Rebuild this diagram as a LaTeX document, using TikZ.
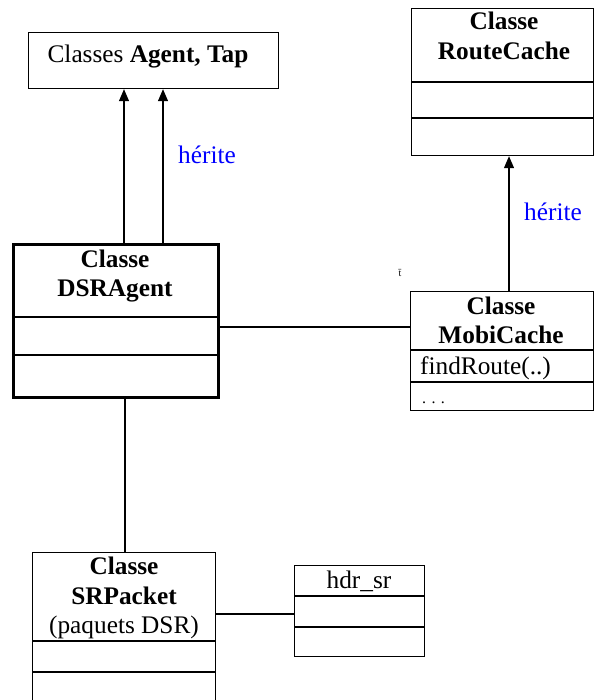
\documentclass[tikz,border=0pt]{standalone}
\usepackage{fontspec}
\setmainfont{Liberation Serif}
\usetikzlibrary{arrows.meta,calc}
\begin{document}
\begin{tikzpicture}[x=1pt,y=-1pt,
  box/.style={draw,line width=1.2pt,rectangle,inner sep=0pt,anchor=north west},
  thickbox/.style={box,line width=2.6pt},
  lbl/.style={anchor=base,inner sep=0pt,font=\fontsize{25.3}{29}\selectfont},
  lleft/.style={anchor=base west,inner sep=0pt,font=\fontsize{25.3}{29}\selectfont},
  herite/.style={lbl,text=blue},
  inh/.style={line width=1.2pt,-{Triangle[length=12pt,width=10pt]}},
  assoc/.style={line width=1.2pt},
  divider/.style={line width=1.2pt},
  thickdivider/.style={line width=2.6pt}]
\useasboundingbox (0,0) rectangle (594,700);
\clip (0,0) rectangle (594,700);
\fill[white] (0,0) rectangle (594,700);

% Classes Agent, Tap
\node[box,minimum width=250pt,minimum height=56pt] (agent) at (28,32) {};
\node[lbl] (agentT) at (148,63) {Classes \textbf{Agent, Tap}};

% RouteCache
\node[box,minimum width=182pt,minimum height=147pt] (route) at (411,8) {};
\node[lbl] (routeT1) at (504,30) {\textbf{Classe}};
\node[lbl] (routeT2) at (504,60) {\textbf{RouteCache}};
\draw[divider] (route.west |- 0,82) -- (route.east |- 0,82);
\draw[divider] (route.west |- 0,118) -- (route.east |- 0,118);

% DSRAgent
\node[thickbox,minimum width=205pt,minimum height=153pt] (dsr) at (12,243) {};
\node[lbl] (dsrT1) at (115,267) {\textbf{Classe}};
\node[lbl] (dsrT2) at (115,296) {\textbf{DSRAgent}};
\draw[thickdivider] (dsr.west |- 0,317) -- (dsr.east |- 0,317);
\draw[thickdivider] (dsr.west |- 0,355) -- (dsr.east |- 0,355);

% MobiCache
\node[box,minimum width=183pt,minimum height=119pt] (mobi) at (410,291) {};
\node[lbl] (mobiT1) at (501,314) {\textbf{Classe}};
\node[lbl] (mobiT2) at (501,343) {\textbf{MobiCache}};
\draw[divider] (mobi.west |- 0,350) -- (mobi.east |- 0,350);
\draw[divider] (mobi.west |- 0,382) -- (mobi.east |- 0,382);
\node[lleft] (mobiM1) at (420,374) {findRoute(..)};
\node[lleft] (mobiM2) at (422,403) {\fontsize{16}{16}\selectfont .\,\,.\,\,.};
\node[inner sep=0pt,font=\fontsize{10}{10}\selectfont] (mark) at (400,273) {\={t}};

% SRPacket
\node[box,minimum width=183pt,minimum height=190pt] (srp) at (32,552) {};
\node[lbl] (srpT1) at (124,574) {\textbf{Classe}};
\node[lbl] (srpT2) at (124,604) {\textbf{SRPacket}};
\node[lbl] (srpT3) at (124,633) {(paquets DSR)};
\draw[divider] (srp.west |- 0,641) -- (srp.east |- 0,641);
\draw[divider] (srp.west |- 0,672) -- (srp.east |- 0,672);

% hdr_sr
\node[box,minimum width=130pt,minimum height=91pt] (hdr) at (294,565) {};
\node[lbl] (hdrT) at (359,588) {hdr\_sr};
\draw[divider] (hdr.west |- 0,596) -- (hdr.east |- 0,596);
\draw[divider] (hdr.west |- 0,627) -- (hdr.east |- 0,627);

% inheritance arrows
\draw[inh] (dsr.north -| 124,0) -- (agent.south -| 124,0);
\draw[inh] (dsr.north -| 163,0) -- (agent.south -| 163,0);
\node[herite] (h1) at (207,164) {hérite};
\draw[inh] (mobi.north -| 509,0) -- (route.south -| 509,0);
\node[herite] (h2) at (553,221) {hérite};

% associations
\draw[assoc] (dsr.east |- 0,327) -- (mobi.west |- 0,327);
\draw[assoc] (dsr.south -| 125,0) -- (srp.north -| 125,0);
\draw[assoc] (srp.east |- 0,614) -- (hdr.west |- 0,614);
\end{tikzpicture}
\end{document}
